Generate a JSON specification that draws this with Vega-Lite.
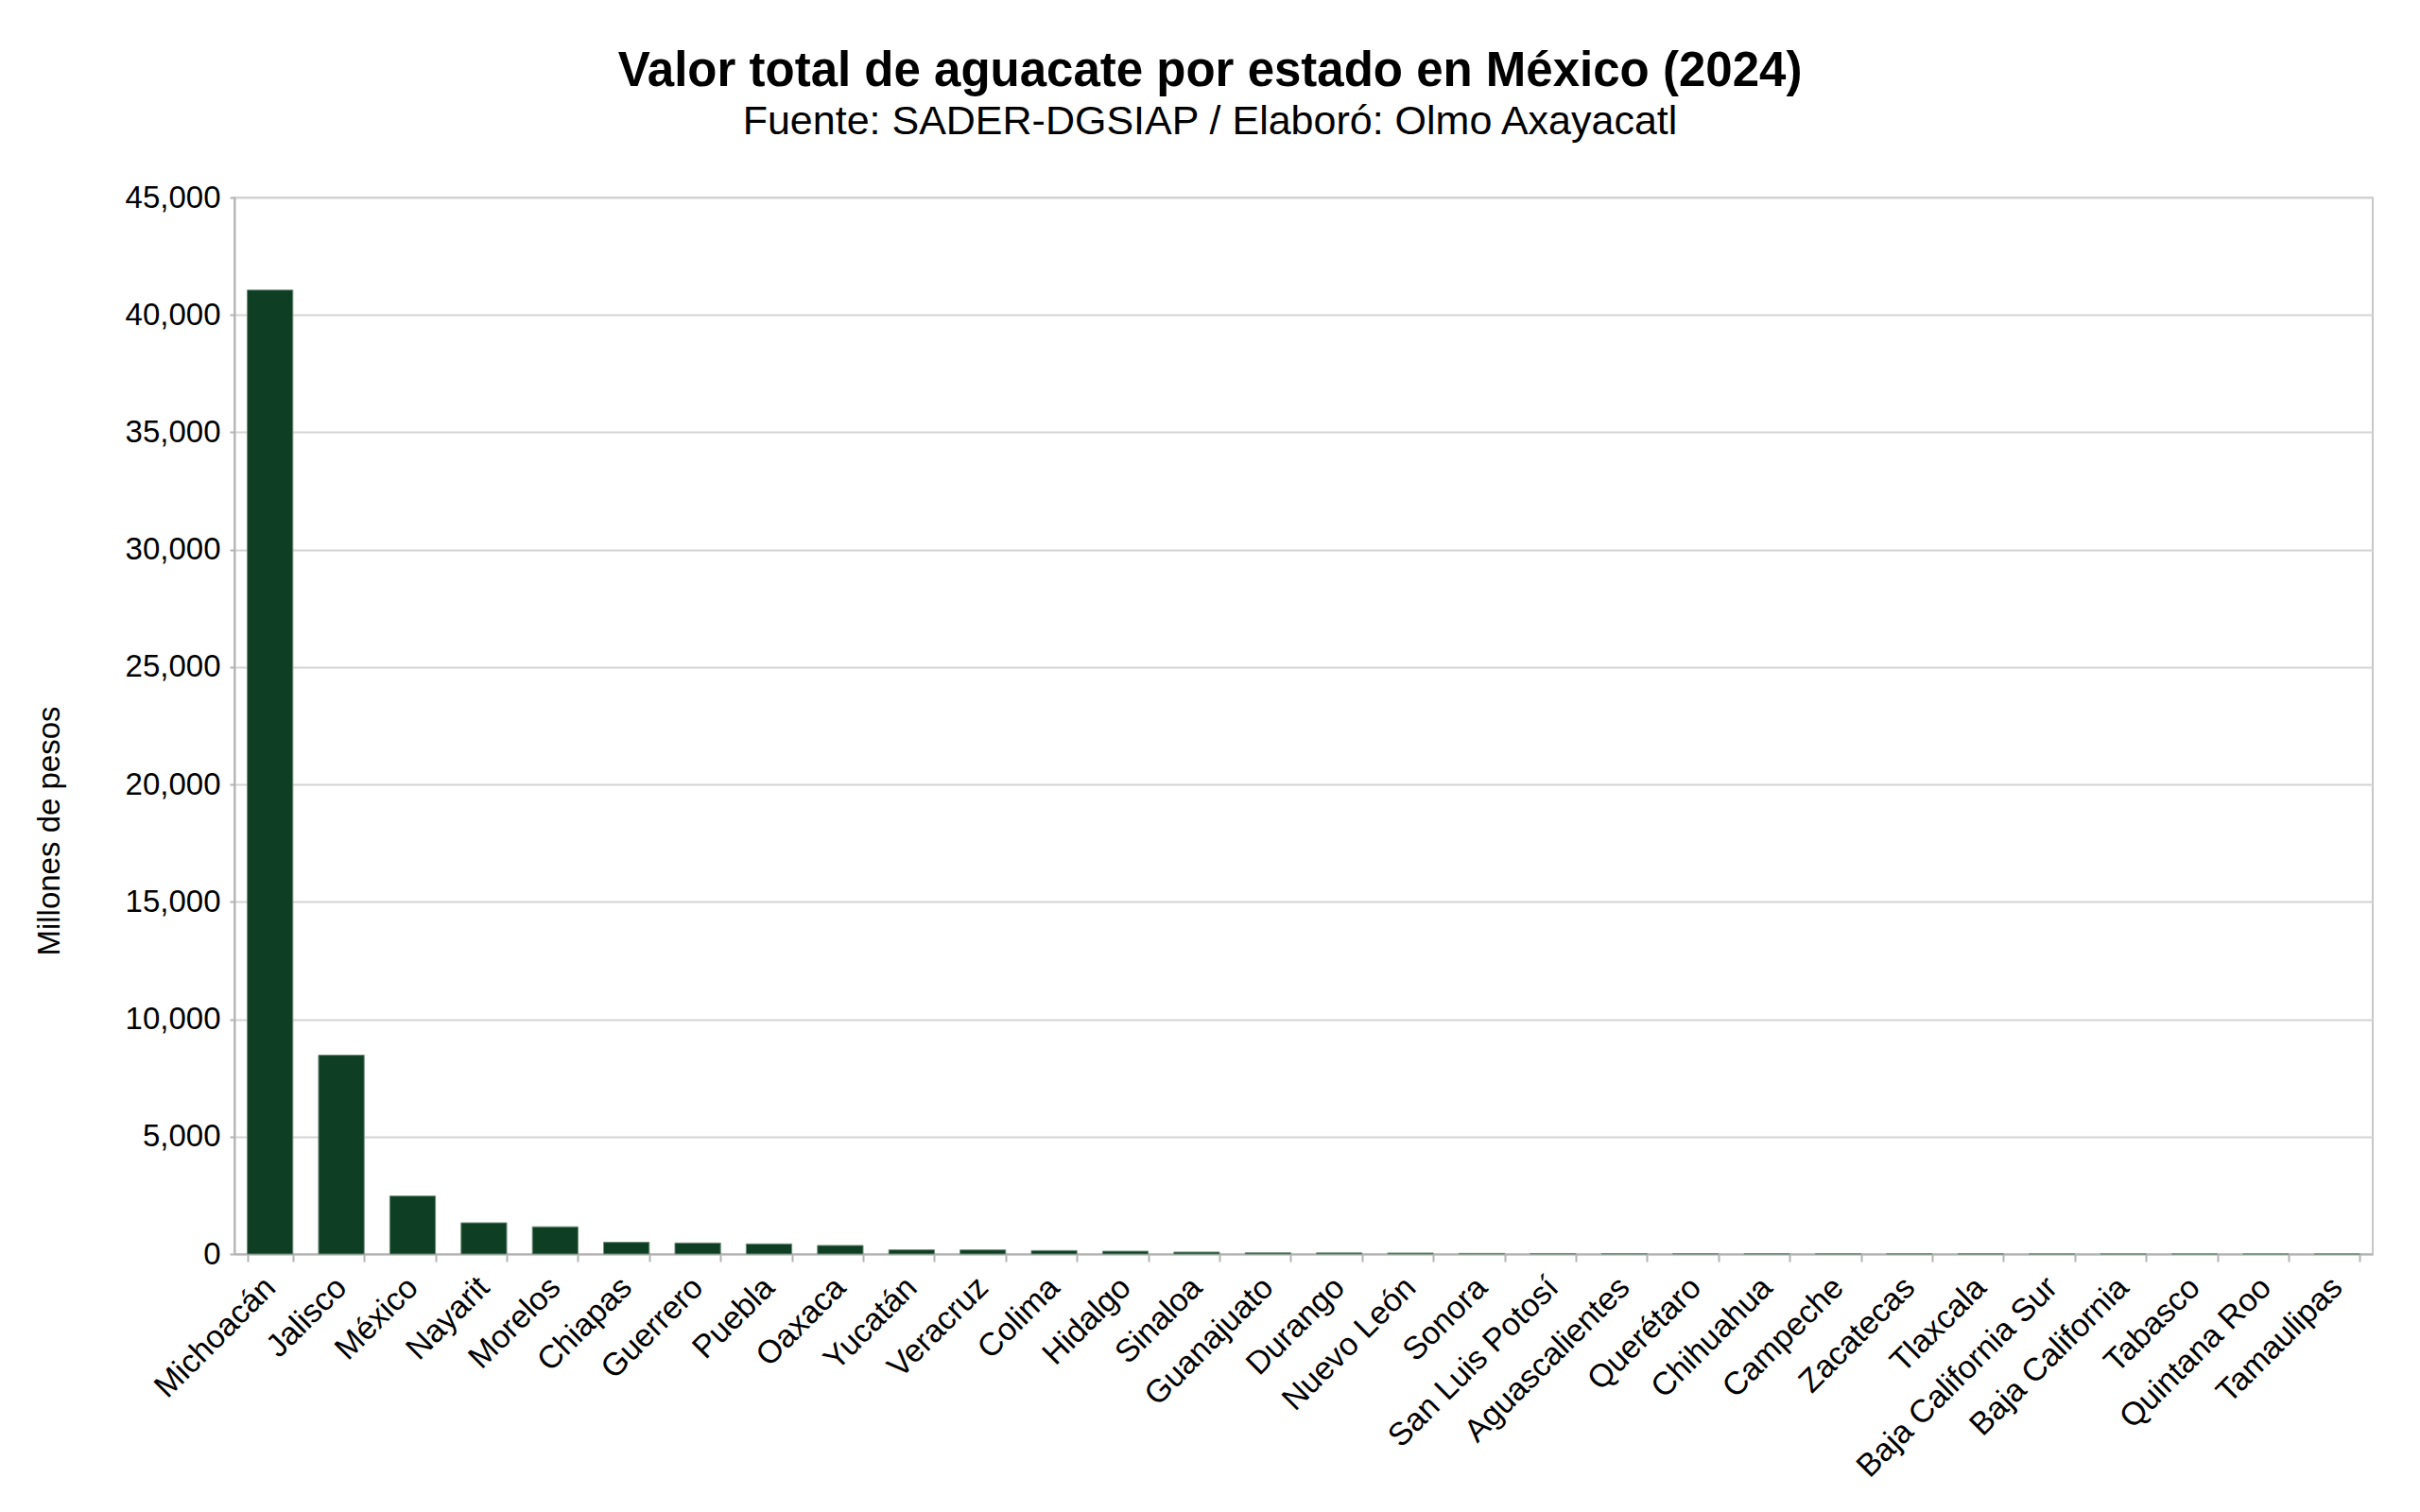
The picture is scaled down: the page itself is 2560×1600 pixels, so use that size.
{
  "$schema": "https://vega.github.io/schema/vega-lite/v6.json",
  "autosize": "none",
  "padding": {"left": 248, "top": 209, "right": 50, "bottom": 273},
  "width": 2262,
  "height": 1118,
  "background": "white",
  "title": {
    "text": "Valor total de aguacate por estado en México (2024)",
    "subtitle": "Fuente: SADER-DGSIAP / Elaboró: Olmo Axayacatl",
    "anchor": "middle",
    "dx": -99,
    "offset": 41,
    "font": "Liberation Sans",
    "fontSize": 51,
    "fontWeight": "bold",
    "color": "black",
    "subtitleFont": "Liberation Sans",
    "subtitleFontSize": 43,
    "subtitleColor": "black",
    "subtitlePadding": 6
  },
  "config": {
    "view": {"stroke": "#c8c8c8", "strokeWidth": 2},
    "axis": {
      "labelFont": "Liberation Sans",
      "titleFont": "Liberation Sans",
      "labelColor": "black",
      "titleColor": "black",
      "labelFontSize": 33,
      "titleFontSize": 33,
      "titleFontWeight": "normal",
      "domainColor": "#b3b3b3",
      "tickColor": "#b3b3b3",
      "gridColor": "#d4d4d4",
      "domainWidth": 2,
      "tickWidth": 2,
      "gridWidth": 2,
      "labelLimit": 0
    }
  },
  "data": {
    "values": [
      {"estado": "Michoacán", "valor": 41060},
      {"estado": "Jalisco", "valor": 8470},
      {"estado": "México", "valor": 2470},
      {"estado": "Nayarit", "valor": 1330},
      {"estado": "Morelos", "valor": 1160},
      {"estado": "Chiapas", "valor": 500},
      {"estado": "Guerrero", "valor": 470},
      {"estado": "Puebla", "valor": 430},
      {"estado": "Oaxaca", "valor": 365},
      {"estado": "Yucatán", "valor": 178},
      {"estado": "Veracruz", "valor": 175},
      {"estado": "Colima", "valor": 148},
      {"estado": "Hidalgo", "valor": 120},
      {"estado": "Sinaloa", "valor": 82},
      {"estado": "Guanajuato", "valor": 52},
      {"estado": "Durango", "valor": 46},
      {"estado": "Nuevo León", "valor": 42},
      {"estado": "Sonora", "valor": 26},
      {"estado": "San Luis Potosí", "valor": 22},
      {"estado": "Aguascalientes", "valor": 16},
      {"estado": "Querétaro", "valor": 13},
      {"estado": "Chihuahua", "valor": 11},
      {"estado": "Campeche", "valor": 9},
      {"estado": "Zacatecas", "valor": 7},
      {"estado": "Tlaxcala", "valor": 6},
      {"estado": "Baja California Sur", "valor": 5},
      {"estado": "Baja California", "valor": 4},
      {"estado": "Tabasco", "valor": 1.5},
      {"estado": "Quintana Roo", "valor": 0.8},
      {"estado": "Tamaulipas", "valor": 0.4}
    ]
  },
  "mark": {"type": "bar", "color": "#0e3e23", "stroke": "#6f8f7a", "strokeWidth": 1},
  "encoding": {
    "x": {
      "field": "estado",
      "type": "nominal",
      "sort": null,
      "scale": {"paddingInner": 0.36, "paddingOuter": 0.18},
      "axis": {
        "title": null,
        "labelAngle": -45,
        "labelAlign": "right",
        "labelBaseline": "middle",
        "labelPadding": 22,
        "labelFontSize": 34,
        "tickBand": "extent",
        "tickSize": 8,
        "grid": false
      }
    },
    "y": {
      "field": "valor",
      "type": "quantitative",
      "scale": {"domain": [0, 45000], "nice": false},
      "axis": {
        "title": "Millones de pesos",
        "values": [0, 5000, 10000, 15000, 20000, 25000, 30000, 35000, 40000, 45000],
        "format": ",d",
        "tickSize": 5,
        "labelPadding": 10,
        "titleAngle": -90,
        "titleX": -196,
        "titleY": 670,
        "titleAlign": "center",
        "titleBaseline": "middle"
      }
    }
  }
}
